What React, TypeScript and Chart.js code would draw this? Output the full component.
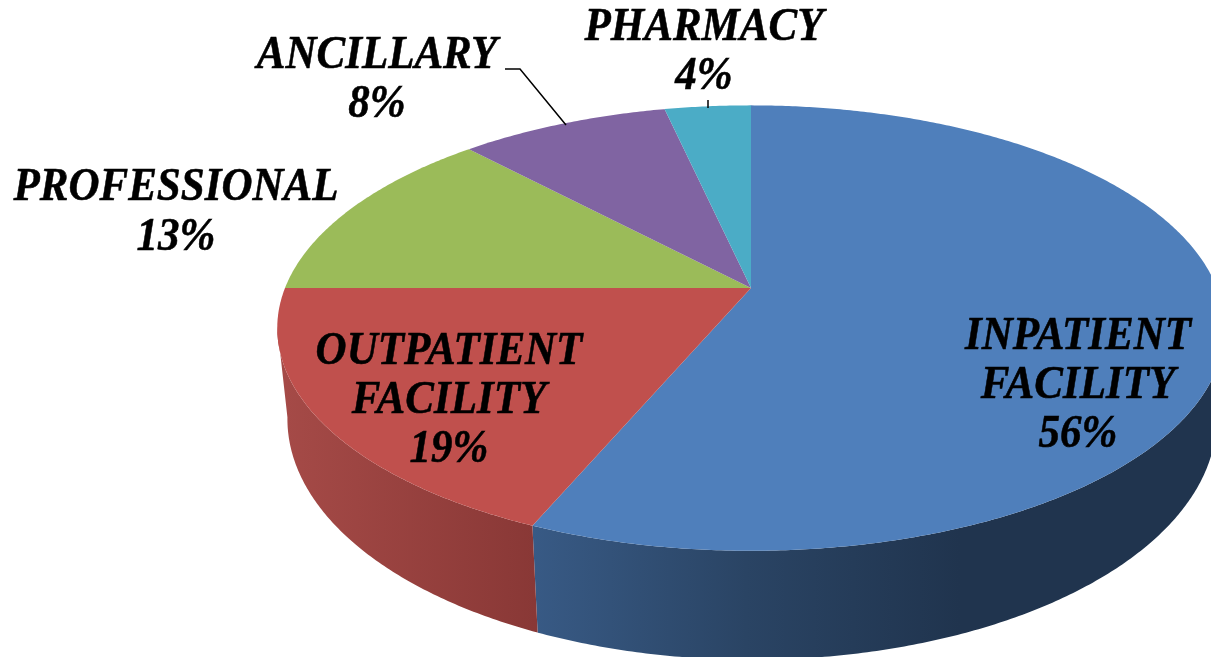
import React, { useEffect, useRef } from "react";
import { Chart, registerables } from "chart.js";

Chart.register(...registerables);

const categories = ["INPATIENT FACILITY", "OUTPATIENT FACILITY", "PROFESSIONAL", "ANCILLARY", "PHARMACY"];
const shares = [56.4, 18.6, 13, 8.5, 3.5];
const shareLabels = ["56%", "19%", "13%", "8%", "4%"];
const sliceColors = ["#4F7FBB", "#C0504D", "#9BBB59", "#8064A2", "#4BACC6"];

const TOP = { cx: 751, cy: 288, a: 466, b: 215.5, q: 0.18 };
const BOTTOM = { cx: 752, cy: 375.6, a: 457, b: 233, q: 0.18 };
const WALL_FROM = (100 * Math.PI) / 180;
const WALL_TO = (260 * Math.PI) / 180;
const STEP = Math.PI / 360;
const TEXT_STRETCH = 1.1;

const labelLayout = [
  { x: 1078, ys: [337, 386, 435], lines: ["INPATIENT", "FACILITY"] },
  { x: 449, ys: [352, 401, 450], lines: ["OUTPATIENT", "FACILITY"] },
  { x: 176, ys: [188, 238], lines: ["PROFESSIONAL"] },
  { x: 377, ys: [56, 105], lines: ["ANCILLARY"] },
  { x: 704, ys: [28, 77], lines: ["PHARMACY"] },
];

function rim(p: typeof TOP, theta: number) {
  const u = Math.sin(theta);
  const v = Math.cos(theta);
  const d = 1 + p.q * v;
  return { x: p.cx + (p.a * u) / d, y: p.cy - (p.b * v) / d };
}

function angles(a0: number, a1: number) {
  const out: number[] = [];
  for (let t = a0; t < a1; t += STEP) out.push(t);
  out.push(a1);
  return out;
}

const pie3d = {
  id: "pie3d",
  beforeDatasetsDraw(chart: any) {
    const ctx = chart.ctx as CanvasRenderingContext2D;
    const arcs = chart.getDatasetMeta(0).data as any[];
    const spans = arcs.map((arc) => ({ s: arc.startAngle + Math.PI / 2, e: arc.endAngle + Math.PI / 2 }));

    spans.forEach((span, i) => {
      const s = Math.max(span.s, WALL_FROM);
      const e = Math.min(span.e, WALL_TO);
      if (e <= s) return;
      const list = angles(s, e);
      ctx.beginPath();
      list.forEach((t, k) => {
        const p = rim(TOP, t);
        if (k === 0) ctx.moveTo(p.x, p.y);
        else ctx.lineTo(p.x, p.y);
      });
      [...list].reverse().forEach((t) => {
        const p = rim(BOTTOM, t);
        ctx.lineTo(p.x, p.y);
      });
      ctx.closePath();
      if (i === 0) {
        const g = ctx.createLinearGradient(533, 0, 960, 0);
        g.addColorStop(0, "#385A85");
        g.addColorStop(0.5, "#2A4464");
        g.addColorStop(1, "#20344E");
        ctx.fillStyle = g;
      } else {
        const g = ctx.createLinearGradient(285, 0, 535, 0);
        g.addColorStop(0, "#A54A47");
        g.addColorStop(1, "#893836");
        ctx.fillStyle = g;
      }
      ctx.fill();
    });

    spans.forEach((span, i) => {
      ctx.beginPath();
      ctx.moveTo(TOP.cx, TOP.cy);
      angles(span.s, span.e).forEach((t) => {
        const p = rim(TOP, t);
        ctx.lineTo(p.x, p.y);
      });
      ctx.closePath();
      ctx.fillStyle = sliceColors[i];
      ctx.fill();
    });
    return false;
  },
  afterDraw(chart: any) {
    const ctx = chart.ctx as CanvasRenderingContext2D;
    ctx.save();
    ctx.strokeStyle = "#000";
    ctx.lineWidth = 1.5;
    ctx.beginPath();
    ctx.moveTo(505, 69);
    ctx.lineTo(520, 69);
    ctx.lineTo(566, 125);
    ctx.moveTo(708, 100);
    ctx.lineTo(708, 108);
    ctx.stroke();

    ctx.fillStyle = "#000";
    ctx.lineWidth = 0.5;
    ctx.font = 'italic bold 43px "Liberation Serif"';
    ctx.textAlign = "center";
    ctx.textBaseline = "middle";
    labelLayout.forEach((l, i) => {
      [...l.lines, shareLabels[i]].forEach((line, k) => {
        ctx.save();
        ctx.translate(l.x, l.ys[k]);
        ctx.scale(1, TEXT_STRETCH);
        ctx.fillText(line, 0, 0);
        ctx.strokeText(line, 0, 0);
        ctx.restore();
      });
    });
    ctx.restore();
  },
};

export default function App() {
  const ref = useRef<HTMLCanvasElement>(null);
  useEffect(() => {
    document.body.style.margin = "0";
    const chart = new Chart(ref.current!, {
      type: "pie",
      data: {
        labels: categories,
        datasets: [{ data: shares, backgroundColor: sliceColors, borderWidth: 0 }],
      },
      options: {
        responsive: false,
        animation: false,
        plugins: { legend: { display: false }, tooltip: { enabled: false } },
      },
      plugins: [pie3d],
    } as any);
    return () => chart.destroy();
  }, []);
  return <canvas ref={ref} width={1211} height={657} style={{ display: "block", background: "#fff" }} />;
}
